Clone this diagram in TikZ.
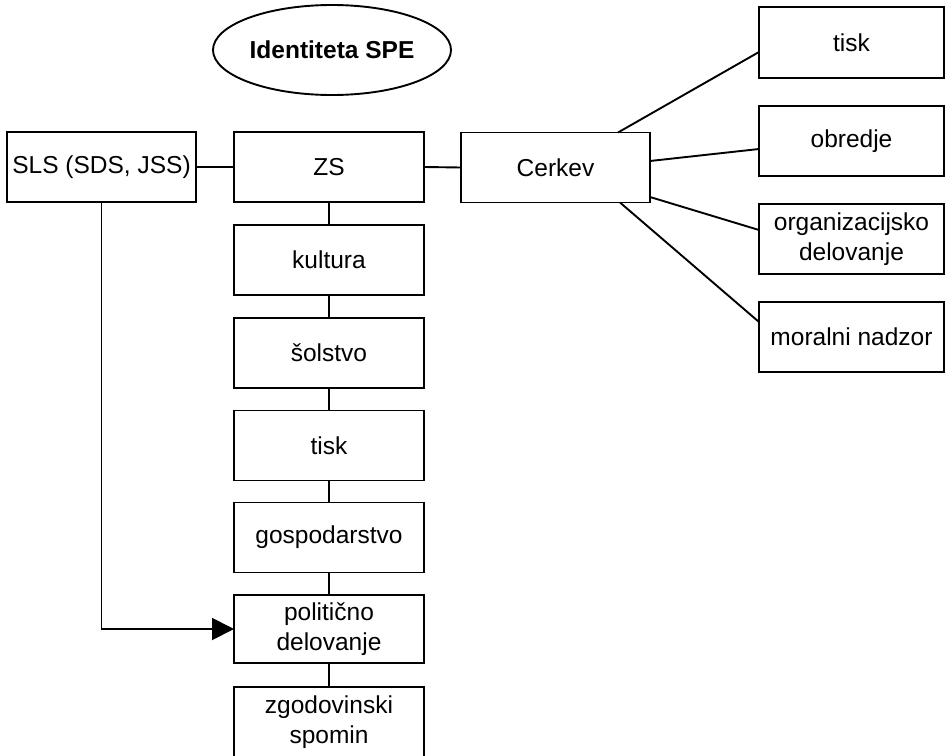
\documentclass[tikz,border=0pt]{standalone}
\usepackage{fontspec}
\setmainfont{Liberation Sans}
\usetikzlibrary{arrows.meta,shapes.geometric}
\begin{document}
\begin{tikzpicture}[x=1pt,y=-1pt,
  every node/.style={font=\fontsize{24.5}{29.5}\selectfont},
  box/.style={draw,line width=1.9pt,inner sep=0pt,outer sep=0pt,align=center,minimum height=70pt},
  colbox/.style={box,minimum width=190pt},
  rbox/.style={box,minimum width=185pt},
  conn/.style={line width=1.9pt}]
\useasboundingbox (0,0) rectangle (945,755);
\clip (0,0) rectangle (945,755);
\fill[white] (0,0) rectangle (945,755);
% ellipse
\node[draw,ellipse,line width=1.9pt,minimum width=238pt,minimum height=90pt,inner sep=0pt,font=\fontsize{24.5}{29.5}\selectfont\bfseries] (id) at (332,50) {Identiteta SPE};
% top row
\node[box,minimum width=189pt] (sls) at (101.5,167) {SLS (SDS, JSS)};
\node[colbox] (zs) at (329,167) {ZS};
\node[box,minimum width=189pt] (cer) at (555.5,167.5) {Cerkev};
% column
\node[colbox] (kul) at (329,260) {kultura};
\node[colbox] (sol) at (329,353) {šolstvo};
\node[colbox] (tis) at (329,445.5) {tisk};
\node[colbox] (gos) at (329,537.5) {gospodarstvo};
\node[colbox,minimum height=68pt] (pol) at (329,629) {politično\\delovanje};
\node[colbox] (zgo) at (329,722) {zgodovinski\\spomin};
% right column
\node[rbox,minimum height=71pt] (r1) at (851.5,42.5) {tisk};
\node[rbox] (r2) at (851.5,141) {obredje};
\node[rbox] (r3) at (851.5,239) {organizacijsko\\delovanje};
\node[rbox] (r4) at (851.5,337) {moralni nadzor};
% connectors
\draw[conn] (sls.east) -- (zs.west);
\draw[conn] (zs.east) -- (cer.west);
\draw[conn] (zs.south) -- (kul.north);
\draw[conn] (kul.south) -- (sol.north);
\draw[conn] (sol.south) -- (tis.north);
\draw[conn] (tis.south) -- (gos.north);
\draw[conn] (gos.south) -- (pol.north);
\draw[conn] (pol.south) -- (zgo.north);
\draw[conn] ([xshift=62.5pt]cer.north) -- ([yshift=-9.5pt]r1.west);
\draw[conn] ([yshift=6.5pt]cer.east) -- ([yshift=-8pt]r2.west);
\draw[conn] ([yshift=-29.5pt]cer.east) -- ([yshift=9pt]r3.west);
\draw[conn] ([xshift=64.5pt]cer.south) -- ([yshift=15pt]r4.west);
\draw[conn,-{Triangle[length=22pt,width=22pt]}] (sls.south) |- (pol.west);
\end{tikzpicture}
\end{document}
